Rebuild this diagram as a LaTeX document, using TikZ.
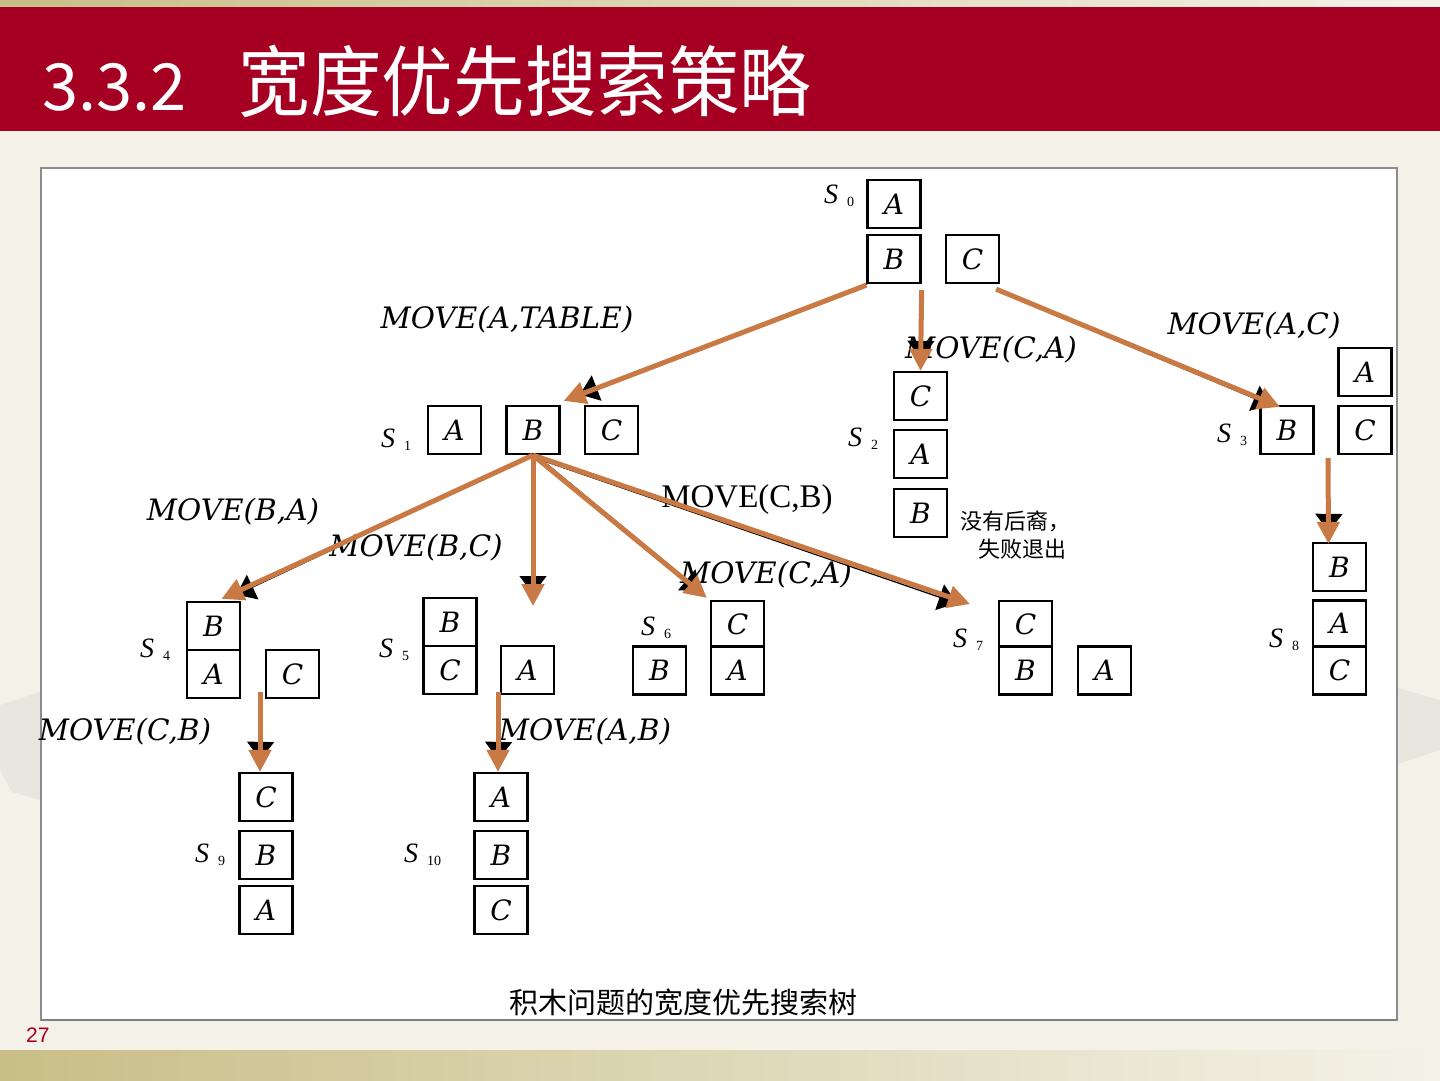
\documentclass[tikz,border=0pt]{standalone}
\usepackage{fontspec}
\newfontfamily\cjk{Noto Sans CJK SC}
\newfontfamily\dvs{DejaVu Serif}
\newfontfamily\lser{Liberation Serif}
\newfontfamily\lsans{Liberation Sans}
\usetikzlibrary{arrows.meta}
\definecolor{bandred}{RGB}{165,0,33}
\definecolor{cream}{RGB}{244,242,232}
\definecolor{olivetan}{RGB}{200,190,135}
\definecolor{arr}{RGB}{200,121,68}
\definecolor{panelgray}{RGB}{140,140,140}
\definecolor{decor}{RGB}{232,230,222}
\newcommand\Slab[1]{{\lser\itshape\fontsize{28}{30}\selectfont S}\hspace{9pt}\raisebox{-3pt}{\lser\fontsize{14}{14}\selectfont #1}}
\begin{document}
\begin{tikzpicture}[x=1pt,y=-1pt,
  blockbox/.style={draw, line width=2.3pt, minimum width=53pt, minimum height=48pt, inner sep=0pt,
    font=\dvs\itshape\fontsize{28}{30}\selectfont},
  slabel/.style={anchor=base west, inner sep=0pt},
  mv/.style={inner sep=0pt, font=\dvs\itshape\fontsize{29.5}{31}\selectfont},
  mvup/.style={inner sep=0pt, font=\lser\fontsize{33}{35}\selectfont},
  cjklab/.style={inner sep=0pt, font=\cjk\fontsize{22}{24}\selectfont},
  blkarrow/.style={draw=black, line width=1.3pt, -{Triangle[length=18pt,width=27pt]}, shorten >=12pt},
  orarrow/.style={draw=arr, line width=5pt, -{Triangle[length=22pt,width=22pt]}}
]
\useasboundingbox (0,0) rectangle (1440,1080);
% background
\fill[cream] (0,0) rectangle (1440,1080);
\shade[left color=olivetan, right color=cream] (0,0) rectangle (1440,8);
\fill[decor] (0,705) -- (40,692) -- (40,800) -- (12,792) -- (0,770) -- cycle;
\fill[decor] (1398,688) -- (1440,700) -- (1440,750) -- (1398,764) -- cycle;
\fill[bandred] (0,7) rectangle (1440,131);
\shade[left color=olivetan, right color=cream] (0,1050) rectangle (1440,1080);
\node[anchor=base west, inner sep=0pt, text=white] (title) at (42,110)
  {{\cjk\fontsize{65}{70}\selectfont 3.3.2}\hspace{52pt}\scalebox{0.93}[1]{\cjk\fontsize{77}{80}\selectfont 宽度优先搜索策略}};
\node[anchor=base west, inner sep=0pt, text=bandred, font=\lsans\fontsize{21}{22}\selectfont] (pnum) at (26,1042) {27};
% panel
\fill[white] (41,168) rectangle (1397,1020);
\draw[panelgray, line width=1.5pt] (41,168) rectangle (1397,1020);
\draw[gray, line width=2.5pt] (41,1020) -- (1397,1020);

% S0
\node[blockbox] (s0a) at (894,204) {A};
\node[blockbox] (s0b) at (894,259) {B};
\node[blockbox] (s0c) at (972.5,259) {C};
\node[slabel] (l0) at (824,203) {\Slab{0}};
% S1
\node[blockbox] (s1a) at (454.5,430) {A};
\node[blockbox] (s1b) at (533,430) {B};
\node[blockbox] (s1c) at (611.5,430) {C};
\node[slabel] (l1) at (381,447) {\Slab{1}};
% S2
\node[blockbox] (s2c) at (920.5,396) {C};
\node[blockbox] (s2a) at (920.5,454) {A};
\node[blockbox] (s2b) at (920.5,513) {B};
\node[slabel] (l2) at (848,446) {\Slab{2}};
% S3
\node[blockbox] (s3a) at (1365,372) {A};
\node[blockbox] (s3b) at (1287,430) {B};
\node[blockbox] (s3c) at (1365,430) {C};
\node[slabel] (l3) at (1217,442) {\Slab{3}};
% S4
\node[blockbox] (s4b) at (213.5,626) {B};
\node[blockbox] (s4a) at (213.5,674) {A};
\node[blockbox] (s4c) at (292.5,674) {C};
\node[slabel] (l4) at (140,657) {\Slab{4}};
% S5
\node[blockbox] (s5b) at (450,622) {B};
\node[blockbox] (s5c) at (450,670) {C};
\node[blockbox] (s5a) at (527.5,670) {A};
\node[slabel] (l5) at (379,657) {\Slab{5}};
% S6
\node[blockbox] (s6b) at (659.5,670.5) {B};
\node[blockbox, minimum height=46pt] (s6c) at (737.5,624) {C};
\node[blockbox] (s6a) at (737.5,670.5) {A};
\node[slabel] (l6) at (641,635) {\Slab{6}};
% S7
\node[blockbox, minimum height=46pt] (s7c) at (1025.5,624) {C};
\node[blockbox] (s7b) at (1025.5,670.5) {B};
\node[blockbox] (s7a) at (1104.5,670.5) {A};
\node[slabel] (l7) at (953,647) {\Slab{7}};
% S8
\node[blockbox] (s8b) at (1339.5,567) {B};
\node[blockbox, minimum height=46pt] (s8a) at (1339.5,623.5) {A};
\node[blockbox] (s8c) at (1339.5,670.5) {C};
\node[slabel] (l8) at (1269,647) {\Slab{8}};
% S9
\node[blockbox] (s9c) at (266,797) {C};
\node[blockbox] (s9b) at (266,855) {B};
\node[blockbox] (s9a) at (266,910) {A};
\node[slabel] (l9) at (195,862) {\Slab{9}};
% S10
\node[blockbox] (s10a) at (501,797) {A};
\node[blockbox] (s10b) at (501,855) {B};
\node[blockbox] (s10c) at (501,910) {C};
\node[slabel] (l10) at (404,862) {\Slab{10}};

% move labels
\node[mv] (m1) at (507,320) {MOVE(A,TABLE)};
\node[mv] (m2) at (991,350) {MOVE(C,A)};
\node[mv] (m3) at (1254,326) {MOVE(A,C)};
\node[mvup] (m4) at (747,500) {MOVE(C,B)};
\node[mv] (m5) at (233,512) {MOVE(B,A)};
\node[mv] (m6) at (416,548) {MOVE(B,C)};
\node[mv] (m7) at (766,575) {MOVE(C,A)};
\node[mv] (m8) at (125,732) {MOVE(C,B)};
\node[mv] (m9) at (585,732) {MOVE(A,B)};

\node[cjklab, anchor=west] (fail1) at (960,521) {没有后裔，};
\node[cjklab, anchor=west] (fail2) at (978,549) {失败退出};
\node[inner sep=0pt, font=\cjk\fontsize{29}{31}\selectfont] (cap) at (683,1003) {积木问题的宽度优先搜索树};

% free ends
\coordinate (e5) at (533,606);
\coordinate (e7) at (970,604);
\coordinate (b8) at (1328,458);
\coordinate (b9) at (260,692);
\coordinate (b10) at (498,692);

% black underlying arrows
\draw[blkarrow] ([xshift=2pt,yshift=1pt]s0b.south west) -- ([xshift=8pt,yshift=6pt]s1b.north east);
\draw[blkarrow] ([yshift=-6pt]s0b.south east) -- (s2c.north);
\draw[blkarrow] ([xshift=-2pt,yshift=-7pt]s0c.south east) -- ([xshift=-5pt,yshift=-5pt]s3b.north);
\draw[blkarrow] (s1b.south) -- ([xshift=12pt,yshift=1pt]s4b.north);
\draw[blkarrow] (s1b.south) -- (e5);
\draw[blkarrow] ([xshift=3pt]s1b.south) -- ([xshift=0pt,yshift=1pt]s6c.north west);
\draw[blkarrow] ([yshift=-2pt]s1b.south) -- ([xshift=-2pt,yshift=-3pt]e7);
\draw[blkarrow] ([xshift=1.5pt]b8) -- ([xshift=-11pt,yshift=-2pt]s8b.north);
\draw[blkarrow] ([xshift=1.5pt]b9) -- ([xshift=-6pt]s9c.north);
\draw[blkarrow] ([xshift=1.5pt]b10) -- ([xshift=-3pt]s10a.north);

% orange arrows
\draw[orarrow] ([yshift=-1pt]s0b.south west) -- ([xshift=3pt,yshift=4pt]s1b.north east);
\draw[orarrow] ([yshift=-6pt]s0b.south east) -- (s2c.north);
\draw[orarrow] ([xshift=-4pt,yshift=-5pt]s0c.south east) -- ([xshift=-7pt,yshift=-2pt]s3b.north);
\draw[orarrow] (s1b.south) -- ([xshift=8pt,yshift=2pt]s4b.north);
\draw[orarrow] (s1b.south) -- (e5);
\draw[orarrow] (s1b.south) -- ([xshift=-3pt,yshift=2pt]s6c.north west);
\draw[orarrow] (s1b.south) -- (e7);
\draw[orarrow] (b8) -- ([xshift=-11pt,yshift=-2pt]s8b.north);
\draw[orarrow] (b9) -- ([xshift=-6pt]s9c.north);
\draw[orarrow] (b10) -- ([xshift=-3pt]s10a.north);
\end{tikzpicture}
\end{document}
